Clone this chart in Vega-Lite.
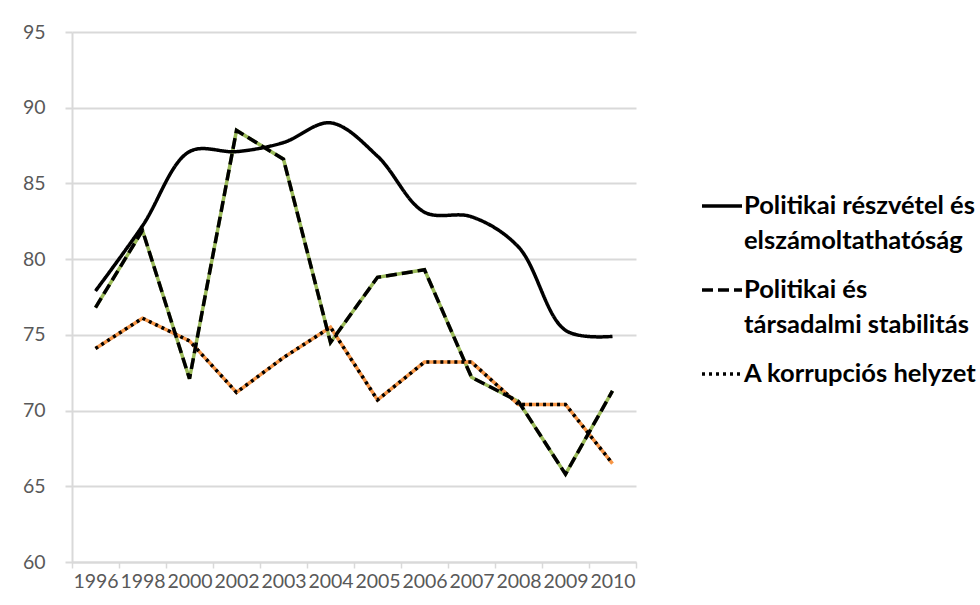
{
  "$schema": "https://vega.github.io/schema/vega-lite/v6.json",
  "width": 564,
  "height": 530,
  "padding": {"left": 22, "top": 22, "right": 0, "bottom": 0},
  "background": "white",
  "config": {
    "view": {"stroke": null},
    "font": "Lato",
    "style": {"guide-label": {"lineHeight": 35}}
  },
  "data": {
    "values": [
      {"year": "1996", "series": "Politikai részvétel és elszámoltathatóság", "value": 77.9},
      {"year": "1998", "series": "Politikai részvétel és elszámoltathatóság", "value": 82.2},
      {"year": "2000", "series": "Politikai részvétel és elszámoltathatóság", "value": 87.1},
      {"year": "2002", "series": "Politikai részvétel és elszámoltathatóság", "value": 87.1},
      {"year": "2003", "series": "Politikai részvétel és elszámoltathatóság", "value": 87.7},
      {"year": "2004", "series": "Politikai részvétel és elszámoltathatóság", "value": 89.0},
      {"year": "2005", "series": "Politikai részvétel és elszámoltathatóság", "value": 86.8},
      {"year": "2006", "series": "Politikai részvétel és elszámoltathatóság", "value": 83.1},
      {"year": "2007", "series": "Politikai részvétel és elszámoltathatóság", "value": 82.8},
      {"year": "2008", "series": "Politikai részvétel és elszámoltathatóság", "value": 80.8},
      {"year": "2009", "series": "Politikai részvétel és elszámoltathatóság", "value": 75.3},
      {"year": "2010", "series": "Politikai részvétel és elszámoltathatóság", "value": 74.9},
      {"year": "1996", "series": "Politikai és társadalmi stabilitás", "value": 76.8},
      {"year": "1998", "series": "Politikai és társadalmi stabilitás", "value": 81.9},
      {"year": "2000", "series": "Politikai és társadalmi stabilitás", "value": 72.1},
      {"year": "2002", "series": "Politikai és társadalmi stabilitás", "value": 88.5},
      {"year": "2003", "series": "Politikai és társadalmi stabilitás", "value": 86.6},
      {"year": "2004", "series": "Politikai és társadalmi stabilitás", "value": 74.5},
      {"year": "2005", "series": "Politikai és társadalmi stabilitás", "value": 78.8},
      {"year": "2006", "series": "Politikai és társadalmi stabilitás", "value": 79.3},
      {"year": "2007", "series": "Politikai és társadalmi stabilitás", "value": 72.2},
      {"year": "2008", "series": "Politikai és társadalmi stabilitás", "value": 70.6},
      {"year": "2009", "series": "Politikai és társadalmi stabilitás", "value": 65.8},
      {"year": "2010", "series": "Politikai és társadalmi stabilitás", "value": 71.3},
      {"year": "1996", "series": "A korrupciós helyzet", "value": 74.1},
      {"year": "1998", "series": "A korrupciós helyzet", "value": 76.1},
      {"year": "2000", "series": "A korrupciós helyzet", "value": 74.6},
      {"year": "2002", "series": "A korrupciós helyzet", "value": 71.2},
      {"year": "2003", "series": "A korrupciós helyzet", "value": 73.5},
      {"year": "2004", "series": "A korrupciós helyzet", "value": 75.5},
      {"year": "2005", "series": "A korrupciós helyzet", "value": 70.7},
      {"year": "2006", "series": "A korrupciós helyzet", "value": 73.2},
      {"year": "2007", "series": "A korrupciós helyzet", "value": 73.2},
      {"year": "2008", "series": "A korrupciós helyzet", "value": 70.4},
      {"year": "2009", "series": "A korrupciós helyzet", "value": 70.4},
      {"year": "2010", "series": "A korrupciós helyzet", "value": 66.5}
    ]
  },
  "encoding": {
    "x": {
      "field": "year",
      "type": "ordinal",
      "bandPosition": 0.5,
      "scale": {"type": "band", "paddingInner": 0, "paddingOuter": 0},
      "axis": {
        "title": null,
        "labelAngle": 0,
        "tickBand": "extent",
        "tickSize": 6,
        "tickColor": "#D9D9D9",
        "tickWidth": 1.5,
        "domainColor": "#D9D9D9",
        "domainWidth": 2,
        "labelFont": "Lato",
        "labelFontSize": 19.5,
        "labelColor": "#595959",
        "labelPadding": 4,
        "labelOverlap": false,
        "grid": false
      }
    },
    "y": {
      "field": "value",
      "type": "quantitative",
      "scale": {"domain": [60, 95], "nice": false, "zero": false},
      "axis": {
        "title": null,
        "values": [60, 65, 70, 75, 80, 85, 90, 95],
        "tickSize": 7,
        "tickColor": "#D9D9D9",
        "tickWidth": 2,
        "domainColor": "#D9D9D9",
        "domainWidth": 2,
        "gridColor": "#D9D9D9",
        "gridWidth": 2,
        "labelFont": "Lato",
        "labelFontSize": 19.5,
        "labelColor": "#595959",
        "labelPadding": 20
      }
    }
  },
  "layer": [
    {
      "transform": [{"filter": "datum.series != 'Politikai részvétel és elszámoltathatóság'"}],
      "mark": {"type": "line", "strokeWidth": 3.5},
      "encoding": {
        "color": {
          "field": "series",
          "type": "nominal",
          "scale": {"domain": ["Politikai és társadalmi stabilitás", "A korrupciós helyzet"], "range": ["#9BBB59", "#F79646"]},
          "legend": null
        }
      }
    },
    {
      "transform": [{"filter": "datum.series == 'Politikai részvétel és elszámoltathatóság'"}],
      "mark": {"type": "line", "interpolate": "catmull-rom", "strokeWidth": 3.5, "color": "black"},
      "encoding": {
        "strokeDash": {
          "field": "series",
          "type": "nominal",
          "scale": {
            "domain": ["Politikai részvétel és elszámoltathatóság", "Politikai és társadalmi stabilitás", "A korrupciós helyzet"],
            "range": [[1, 0], [11, 5], [3, 4]]
          },
          "legend": {
            "title": null,
            "orient": "none",
            "legendX": 628,
            "legendY": 152,
            "symbolType": "stroke",
            "symbolSize": 1600,
            "symbolStrokeWidth": 3.5,
            "symbolStrokeColor": "black",
            "labelFont": "Lato",
            "labelFontSize": 25.5,
            "labelFontWeight": "bold",
            "labelColor": "black",
            "labelLimit": 400,
            "labelOffset": 0,
            "rowPadding": 13,
            "labelExpr": "datum.label == 'Politikai részvétel és elszámoltathatóság' ? ['Politikai részvétel és', 'elszámoltathatóság'] : datum.label == 'Politikai és társadalmi stabilitás' ? ['Politikai és', 'társadalmi stabilitás'] : datum.label"
          }
        }
      }
    },
    {
      "transform": [{"filter": "datum.series != 'Politikai részvétel és elszámoltathatóság'"}],
      "mark": {"type": "line", "strokeWidth": 3.5, "color": "black"},
      "encoding": {
        "strokeDash": {"field": "series", "type": "nominal"}
      }
    }
  ]
}
